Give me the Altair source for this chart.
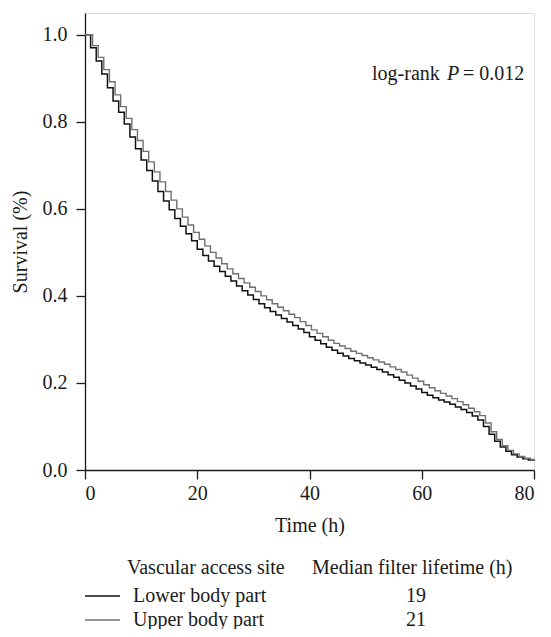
import altair as alt
import pandas as pd

hours = list(range(0, 81))
lower_surv = [1.000, 0.970, 0.940, 0.910, 0.878, 0.848, 0.822, 0.795, 0.765, 0.738,
              0.712, 0.688, 0.664, 0.640, 0.618, 0.598, 0.578, 0.560, 0.543, 0.527,
              0.507, 0.493, 0.480, 0.468, 0.456, 0.445, 0.434, 0.423, 0.412, 0.402,
              0.392, 0.382, 0.373, 0.364, 0.356, 0.348, 0.340, 0.332, 0.324, 0.316,
              0.306, 0.298, 0.290, 0.282, 0.275, 0.268, 0.262, 0.256, 0.251, 0.246,
              0.241, 0.236, 0.231, 0.225, 0.219, 0.213, 0.206, 0.200, 0.193, 0.186,
              0.178, 0.172, 0.166, 0.161, 0.156, 0.151, 0.145, 0.139, 0.132, 0.124,
              0.115, 0.100, 0.082, 0.066, 0.053, 0.043, 0.035, 0.030, 0.026, 0.023,
              0.021]
upper_times = [0.0] + [h + 0.35 for h in range(1, 80)] + [80.0]
upper_surv = [1.000, 0.975, 0.948, 0.920, 0.892, 0.862, 0.835, 0.808, 0.782, 0.757,
              0.732, 0.708, 0.685, 0.662, 0.640, 0.620, 0.600, 0.581, 0.563, 0.546,
              0.530, 0.515, 0.500, 0.487, 0.474, 0.462, 0.451, 0.440, 0.430, 0.420,
              0.410, 0.400, 0.391, 0.382, 0.374, 0.366, 0.358, 0.350, 0.341, 0.332,
              0.322, 0.314, 0.306, 0.298, 0.291, 0.285, 0.279, 0.273, 0.268, 0.263,
              0.258, 0.253, 0.248, 0.243, 0.237, 0.231, 0.225, 0.218, 0.211, 0.204,
              0.196, 0.189, 0.182, 0.176, 0.170, 0.164, 0.157, 0.150, 0.142, 0.134,
              0.125, 0.108, 0.088, 0.070, 0.056, 0.045, 0.037, 0.031, 0.027, 0.024,
              0.021]

groups = ["Lower body part", "Upper body part"]
medians = ["19", "21"]
x_ticks = [0, 20, 40, 60, 80]
y_ticks = [0.0, 0.2, 0.4, 0.6, 0.8, 1.0]

FONT = "Liberation Serif"
FS = 20
W, H = 449, 457

lower_df = pd.DataFrame({"time": hours, "surv": lower_surv})
upper_df = pd.DataFrame({"time": upper_times, "surv": upper_surv})

xs = alt.Scale(domain=[0, 80], nice=False)
ys = alt.Scale(domain=[0, 1.05], nice=False)

xax = alt.Axis(values=x_ticks, title="Time (h)", grid=False, labelFont=FONT, titleFont=FONT,
               labelFontSize=FS, titleFontSize=FS, titleFontWeight="normal",
               labelColor="#1a1a1a", titleColor="#1a1a1a", domainColor="#1a1a1a",
               tickColor="#1a1a1a", tickSize=9, labelPadding=4, titlePadding=12,
               domainWidth=1.3, tickWidth=1.3)
yax = alt.Axis(values=y_ticks, format=".1f", title="Survival (%)", grid=False, labelFont=FONT,
               titleFont=FONT, labelFontSize=FS, titleFontSize=FS, titleFontWeight="normal",
               labelColor="#1a1a1a", titleColor="#1a1a1a", domainColor="#1a1a1a",
               tickColor="#1a1a1a", tickSize=9, labelPadding=9, titlePadding=12,
               domainWidth=1.3, tickWidth=1.3)

lower_line = alt.Chart(lower_df).mark_line(interpolate="step-after", color="#111111", strokeWidth=1.5).encode(
    x=alt.X("time:Q", scale=xs, axis=xax),
    y=alt.Y("surv:Q", scale=ys, axis=yax),
)
upper_line = alt.Chart(upper_df).mark_line(interpolate="step-after", color="#707070", strokeWidth=1.4).encode(
    x=alt.X("time:Q", scale=xs),
    y=alt.Y("surv:Q", scale=ys),
)

def txt(s, x, y, style="normal", align="left"):
    return alt.Chart(pd.DataFrame({"t": [s]})).mark_text(
        font=FONT, fontSize=FS, fontStyle=style, align=align, baseline="alphabetic", color="#1a1a1a"
    ).encode(text="t:N", x=alt.value(x), y=alt.value(y))

annot = [
    txt("log-rank", 287, 67),
    txt("P", 362, 67, style="italic"),
    txt("= 0.012", 378, 67),
    txt("Vascular access site", 42, 561),
    txt("Median filter lifetime (h)", 227, 561),
    txt(groups[0], 48, 589),
    txt(groups[1], 48, 613),
    txt(medians[0], 331, 589, align="center"),
    txt(medians[1], 331, 613, align="center"),
]
leg_lower = alt.Chart(pd.DataFrame({"g": [groups[0]]})).mark_rule(color="#111111", strokeWidth=1.5).encode(
    x=alt.value(0), x2=alt.value(35), y=alt.value(583))
leg_upper = alt.Chart(pd.DataFrame({"g": [groups[1]]})).mark_rule(color="#707070", strokeWidth=1.4).encode(
    x=alt.value(0), x2=alt.value(35), y=alt.value(607))

chart = alt.layer(lower_line, upper_line, leg_lower, leg_upper, *annot).properties(
    width=W, height=H,
    autosize=alt.AutoSizeParams(type="none"),
    padding={"left": 77, "top": 5, "right": 9, "bottom": 159},
).configure_view(stroke=None).configure(background="white")

chart.save("out.html", embed_options={"renderer": "svg", "actions": False})
